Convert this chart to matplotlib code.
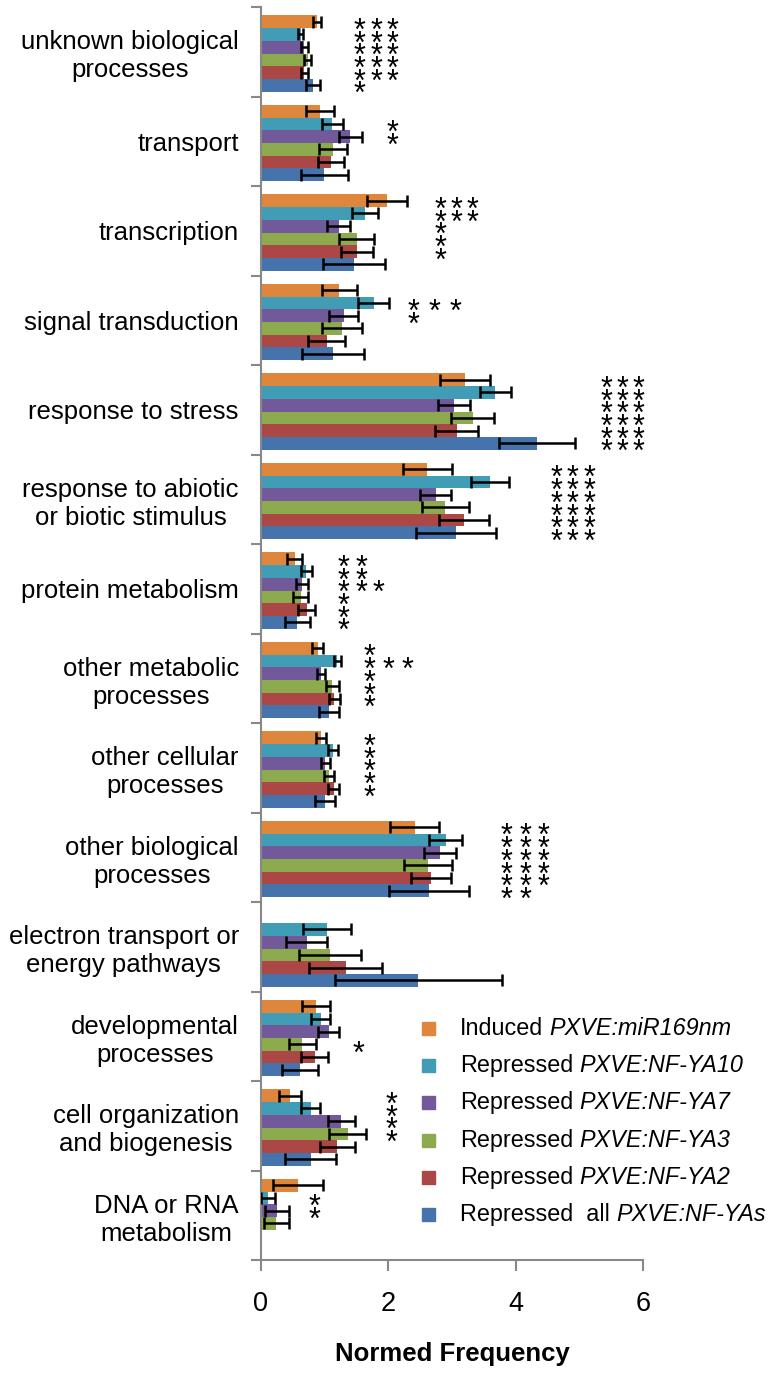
import numpy as np
import matplotlib
matplotlib.use("Agg")
import matplotlib.pyplot as plt
from matplotlib.patches import Rectangle

plt.rcParams['font.family'] = ['Liberation Sans', 'DejaVu Sans']

categories = ['unknown biological\nprocesses', 'transport', 'transcription',
              'signal transduction', 'response to stress',
              'response to abiotic\nor biotic stimulus', 'protein metabolism',
              'other metabolic\nprocesses', 'other cellular\nprocesses',
              'other biological\nprocesses', 'electron transport or\nenergy pathways',
              'developmental\nprocesses', 'cell organization\nand biogenesis',
              'DNA or RNA\nmetabolism']

# values per series, categories top -> bottom
induced_miR169 = [0.88, 0.93, 1.98, 1.23, 3.20, 2.61, 0.53, 0.89, 0.94, 2.41, 0.00, 0.87, 0.45, 0.58]
rep_ya10 = [0.62, 1.12, 1.63, 1.77, 3.68, 3.59, 0.71, 1.20, 1.13, 2.90, 1.04, 0.94, 0.78, 0.11]
rep_ya7 = [0.68, 1.40, 1.22, 1.30, 3.03, 2.74, 0.64, 0.94, 1.01, 2.81, 0.72, 1.06, 1.26, 0.25]
rep_ya3 = [0.73, 1.13, 1.50, 1.27, 3.32, 2.89, 0.62, 1.12, 1.07, 2.62, 1.08, 0.65, 1.36, 0.24]
rep_ya2 = [0.68, 1.10, 1.51, 1.03, 3.07, 3.19, 0.72, 1.15, 1.14, 2.67, 1.33, 0.84, 1.20, 0.00]
rep_all = [0.81, 0.99, 1.46, 1.13, 4.33, 3.06, 0.57, 1.07, 1.01, 2.64, 2.47, 0.61, 0.78, 0.00]

err_miR169 = [0.06, 0.22, 0.31, 0.28, 0.39, 0.38, 0.12, 0.09, 0.08, 0.39, 0.00, 0.22, 0.17, 0.39]
err_ya10 = [0.045, 0.165, 0.20, 0.24, 0.25, 0.30, 0.09, 0.06, 0.075, 0.26, 0.38, 0.15, 0.145, 0.11]
err_ya7 = [0.05, 0.18, 0.18, 0.23, 0.25, 0.245, 0.09, 0.065, 0.07, 0.25, 0.32, 0.16, 0.215, 0.19]
err_ya3 = [0.055, 0.22, 0.27, 0.31, 0.34, 0.37, 0.12, 0.10, 0.08, 0.37, 0.49, 0.21, 0.29, 0.20]
err_ya2 = [0.05, 0.20, 0.25, 0.285, 0.34, 0.39, 0.135, 0.09, 0.09, 0.31, 0.57, 0.21, 0.28, 0.00]
err_all = [0.11, 0.37, 0.49, 0.49, 0.60, 0.63, 0.20, 0.16, 0.155, 0.63, 1.31, 0.28, 0.40, 0.00]

series_prefix = ['Induced', 'Repressed', 'Repressed', 'Repressed', 'Repressed', 'Repressed  all']
series_italic = ['PXVE:miR169nm', 'PXVE:NF-YA10', 'PXVE:NF-YA7', 'PXVE:NF-YA3',
                 'PXVE:NF-YA2', 'PXVE:NF-YAs']
colors = ['#DE873C', '#419CB6', '#71599A', '#8DAA4F', '#AB4744', '#4673AB']

# significance stars: start x, spacing, number of stars per bar row
star_x = [1.55, 2.07, 2.82, 2.39, 5.42, 4.63, 1.30, 1.70, 1.70, 3.86, 0, 1.53, 2.05, 0.84]
star_dx = [0.26, 0.26, 0.25, 0.33, 0.25, 0.26, 0.27, 0.30, 0.30, 0.285, 0.26, 0.26, 0.26, 0.26]
star_rows = [[3, 3, 3, 3, 3, 1], [0, 1, 1], [3, 3, 1, 1, 1], [0, 3, 1], [3] * 6, [3] * 6,
             [2, 2, 3, 1, 1, 1], [1, 3, 1, 1, 1], [1, 1, 1, 1, 1], [3, 3, 3, 3, 3, 2],
             [], [0, 0, 0, 1], [1, 1, 1, 1], [0, 1, 1]]

values = [induced_miR169, rep_ya10, rep_ya7, rep_ya3, rep_ya2, rep_all]
errors = [err_miR169, err_ya10, err_ya7, err_ya3, err_ya2, err_all]

fig = plt.figure(figsize=(7.72, 13.75), dpi=100)
ax = fig.add_axes([261 / 772, 1 - 1260 / 1375, (643.3 - 261) / 772, (1260 - 7) / 1375])

h = 0.142
y = np.arange(len(categories))
for k in range(6):
    v = np.array(values[k])
    e = np.array(errors[k])
    pos = y + (k - 2.5) * h + 0.02
    ax.barh(pos, v, height=h, color=colors[k], zorder=2)
    m = v > 0
    ax.errorbar(v[m], pos[m], xerr=e[m], fmt='none', ecolor='black',
                elinewidth=1.8, capsize=4.5, capthick=1.8, zorder=3)

# stars, one per text, centred on the bar row they belong to
fs_star = 22
for i in range(len(categories)):
    for r, n in enumerate(star_rows[i]):
        for j in range(n):
            ax.annotate('*', xy=(star_x[i] + j * star_dx[i], i + (r - 2.5) * h + 0.02),
                        xytext=(0, -0.59 * fs_star), textcoords='offset points',
                        ha='center', va='baseline', fontsize=fs_star, zorder=4)

ax.set_xlim(0, 6)
ax.set_ylim(len(categories) - 0.5, -0.5)
ax.set_xticks([0, 2, 4, 6])
ax.set_yticks(y)
ax.set_yticklabels(categories, fontsize=18.5, ha='right', multialignment='center')
ax.set_yticks(np.arange(len(categories) + 1) - 0.5, minor=True)
ax.tick_params(axis='y', which='major', length=0, pad=16)
ax.tick_params(axis='y', which='minor', length=7, width=1.5, color='#888888', direction='out')
ax.tick_params(axis='x', length=8, width=1.5, color='#888888', direction='out',
               labelsize=19.5, pad=14)
for s in ['top', 'right']:
    ax.spines[s].set_visible(False)
for s in ['left', 'bottom']:
    ax.spines[s].set_color('#888888')
    ax.spines[s].set_linewidth(1.5)
ax.set_xlabel('Normed Frequency', fontsize=18.5, fontweight='bold', labelpad=18)

# legend drawn by hand for mixed upright / italic labels
for k in range(6):
    ly = 1 - (1028.3 + k * 37.3) / 1375
    fig.patches.append(Rectangle((421.5 / 772, ly - 6.5 / 1375), 13 / 772, 13 / 1375,
                                 transform=fig.transFigure, color=colors[k]))
    t1 = fig.text(460 / 772, ly, series_prefix[k], fontsize=16.8, va='center', ha='left')
    ax.annotate(series_italic[k], xy=(1, 0), xycoords=t1, xytext=(6.5, 0),
                textcoords='offset pixels', fontsize=16.8, style='italic',
                ha='left', va='bottom', annotation_clip=False)

fig.savefig('out.png', dpi=100)
